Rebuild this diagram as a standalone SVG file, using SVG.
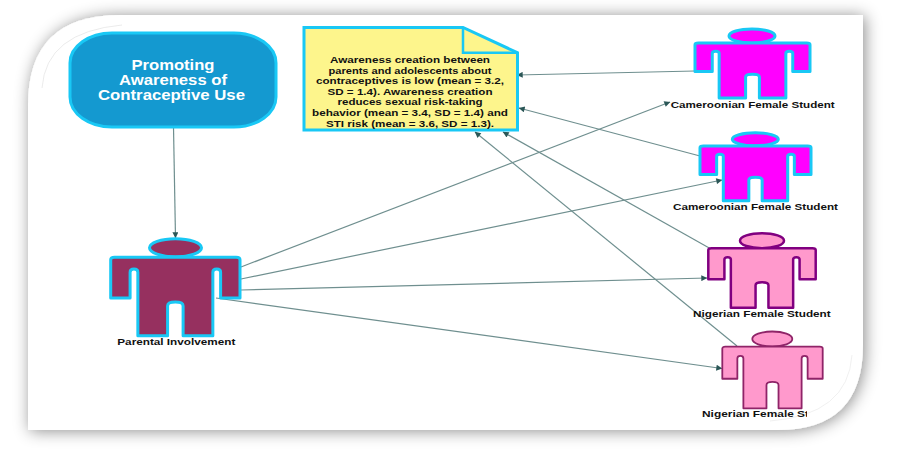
<svg xmlns="http://www.w3.org/2000/svg" width="900" height="450" viewBox="0 0 900 450">
<style>
.lbl{font-family:"Liberation Sans",Arial,sans-serif;font-weight:700;font-size:9.6px;fill:#111;text-anchor:start}
.note{font-family:"Liberation Sans",Arial,sans-serif;font-weight:700;font-size:9.8px;fill:#111;text-anchor:middle}
.title{font-family:"Liberation Sans",Arial,sans-serif;font-weight:700;font-size:14.6px;fill:#fff;text-anchor:middle}
.par{fill:#96305f;stroke:#19c8f5;stroke-width:3}
.cam{fill:#ff00ff;stroke:#19c8f5;stroke-width:3}
.nig1{fill:#ff99cc;stroke:#800080;stroke-width:2.5}
.nig2{fill:#ff99cc;stroke:#8f2468;stroke-width:1.8}
.conn{stroke:#6f8f8f;stroke-width:1.2;fill:none;marker-end:url(#arrow)}
</style>
<defs>
<filter id="shadow" x="-10%" y="-15%" width="120%" height="130%">
<feDropShadow dx="2" dy="1" stdDeviation="8" flood-color="#000" flood-opacity="0.45"/>
</filter>
<marker id="arrow" viewBox="0 0 10 10" refX="9.500" refY="5" markerWidth="8" markerHeight="6" markerUnits="userSpaceOnUse" orient="auto">
<path d="M0 0L10 5L0 10Z" fill="#2b5757"/>
</marker>
<path id="person" vector-effect="non-scaling-stroke" stroke-linejoin="round" d="M3 0H97Q100 0 100 3V52H85V19Q85 15 82 15Q79 15 79 19V100H56V62Q56 57 50 57Q44 57 44 62V100H21V19Q21 15 18 15Q15 15 15 19V52H0V3Q0 0 3 0Z"/>
<clipPath id="cut"><rect x="690" y="405" width="117" height="20"/></clipPath>
</defs>

<g id="card">
<path d="M120 15H863V345Q863 430 778 430H28V105Q28 15 120 15Z" fill="#fff" filter="url(#shadow)"/>
<path d="M42 88Q46 32 122 25" fill="none" stroke="#e6e6e6" stroke-width="0.8"/>
<path d="M852 355Q848 415 770 421" fill="none" stroke="#ececec" stroke-width="0.8"/>
</g>

<g id="connectors">
<path class="conn" d="M173.500 127L175.500 238"/>
<path class="conn" d="M695 71L517 75"/>
<path class="conn" d="M700 156L519 108"/>
<path class="conn" d="M711 249L503 132"/>
<path class="conn" d="M737 346L475 132"/>
<path class="conn" d="M241 267L670 102"/>
<path class="conn" d="M241 279L722 180"/>
<path class="conn" d="M241 290L707 278"/>
<path class="conn" d="M216 298L722 368.500"/>
</g>

<g id="promoting-awareness">
<rect x="70" y="33" width="206" height="94" rx="42" ry="30" fill="#1499d0" stroke="#19c8f5" stroke-width="3"/>
<text class="title" x="173" y="69.500" textLength="83" lengthAdjust="spacingAndGlyphs">Promoting</text>
<text class="title" x="173" y="84.700" textLength="108" lengthAdjust="spacingAndGlyphs">Awareness of</text>
<text class="title" x="171.500" y="99.500" textLength="147" lengthAdjust="spacingAndGlyphs">Contraceptive Use</text>
</g>

<g id="awareness-note">
<path d="M304 27.500H463L517.500 52.700V130H304Z" fill="#fdf58c" stroke="#19c8f5" stroke-width="3"/>
<path d="M463 27.500V52.700H517.500" fill="none" stroke="#19c8f5" stroke-width="2.500"/>
<text class="note" x="410" y="63" textLength="160" lengthAdjust="spacingAndGlyphs">Awareness creation between</text>
<text class="note" x="410" y="73.600" textLength="163" lengthAdjust="spacingAndGlyphs">parents and adolescents about</text>
<text class="note" x="410" y="84.200" textLength="188" lengthAdjust="spacingAndGlyphs">contraceptives is low (mean = 3.2,</text>
<text class="note" x="410" y="94.800" textLength="165" lengthAdjust="spacingAndGlyphs">SD = 1.4). Awareness creation</text>
<text class="note" x="410" y="105.300" textLength="145" lengthAdjust="spacingAndGlyphs">reduces sexual risk-taking</text>
<text class="note" x="410" y="115.900" textLength="196" lengthAdjust="spacingAndGlyphs">behavior (mean = 3.4, SD = 1.4) and</text>
<text class="note" x="410" y="126.500" textLength="168" lengthAdjust="spacingAndGlyphs">STI risk (mean = 3.6, SD = 1.3).</text>
</g>

<g id="parental-involvement">
<ellipse class="par" cx="175.500" cy="247.700" rx="26" ry="9"/>
<use href="#person" class="par" transform="translate(110.700 257.300) scale(1.293 .784)"/>
<text class="lbl" x="117.300" y="345" textLength="118" lengthAdjust="spacingAndGlyphs">Parental Involvement</text>
</g>

<g id="cameroonian-student-1">
<ellipse class="cam" cx="752" cy="36" rx="23" ry="7"/>
<use href="#person" class="cam" transform="translate(695 43) scale(1.15 .55)"/>
<text class="lbl" x="670.700" y="108" textLength="164" lengthAdjust="spacingAndGlyphs">Cameroonian Female Student</text>
</g>

<g id="cameroonian-student-2">
<ellipse class="cam" cx="755.300" cy="139.300" rx="23" ry="6.500"/>
<use href="#person" class="cam" transform="translate(700 146) scale(1.11 .547)"/>
<text class="lbl" x="673" y="210" textLength="165" lengthAdjust="spacingAndGlyphs">Cameroonian Female Student</text>
</g>

<g id="nigerian-student-1">
<ellipse class="nig1" cx="762" cy="240.700" rx="22" ry="7.500"/>
<use href="#person" class="nig1" transform="translate(708.300 248.300) scale(1.074 .594)"/>
<text class="lbl" x="693" y="317" textLength="137.700" lengthAdjust="spacingAndGlyphs">Nigerian Female Student</text>
</g>

<g id="nigerian-student-2">
<ellipse class="nig2" cx="772.300" cy="339" rx="20" ry="7.500"/>
<use href="#person" class="nig2" transform="translate(722.300 346.700) scale(1.004 .616)"/>
<text class="lbl" x="702" y="417.300" textLength="107" lengthAdjust="spacingAndGlyphs" clip-path="url(#cut)">Nigerian Female St</text>
</g>
</svg>
